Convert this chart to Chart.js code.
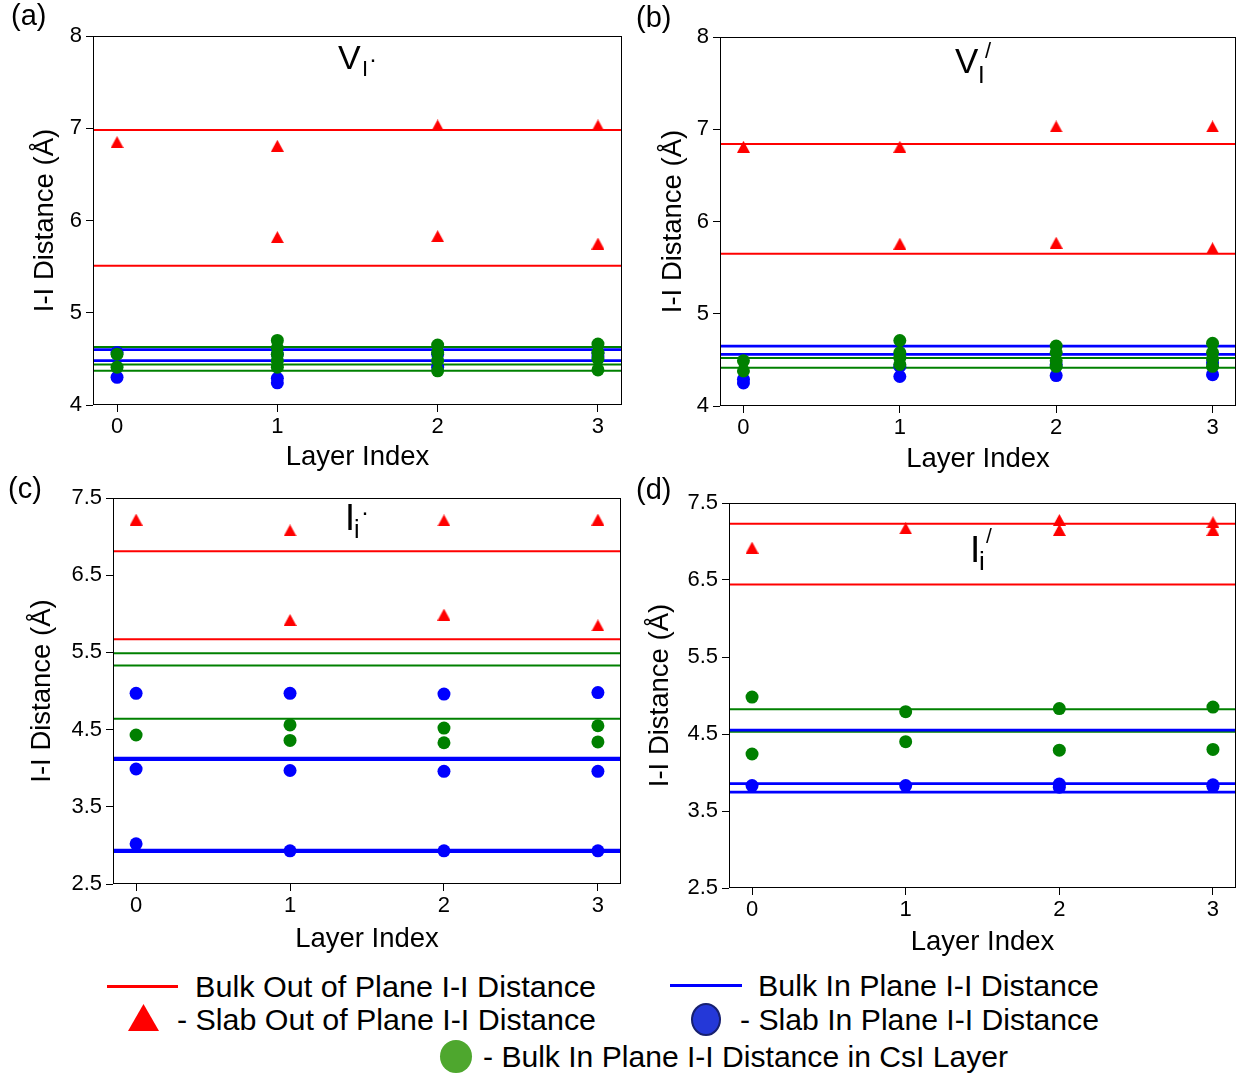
<!DOCTYPE html>
<html><head><meta charset="utf-8">
<script src="https://cdn.jsdelivr.net/npm/chart.js@4.4.0/dist/chart.umd.min.js"></script>
<style>
body{margin:0;background:#fff;width:1244px;height:1076px;position:relative;overflow:hidden;font-family:"Liberation Sans",Arial,sans-serif;}
canvas.pc{position:absolute;}
.t{position:absolute;line-height:1;white-space:nowrap;color:#000;font-family:"Liberation Sans",Arial,sans-serif;}
.lg{position:absolute;line-height:1;white-space:nowrap;color:#000;font-family:"Liberation Sans Narrow","Liberation Sans",Arial,sans-serif;font-size:30px;transform-origin:left center;}
</style></head><body>
<canvas id="ca" class="pc"></canvas>
<canvas id="cb" class="pc"></canvas>
<canvas id="cc" class="pc"></canvas>
<canvas id="cd" class="pc"></canvas>
<div id="overlay"></div>
<script>
// ---------------- DATA ----------------
const LAYER_TICKS = [0, 1, 2, 3];
const X_MIN = -0.15, X_MAX = 3.15;
const Y_TICKS_AB = [4, 5, 6, 7, 8];
const Y_TICKS_CD = [2.5, 3.5, 4.5, 5.5, 6.5, 7.5];

// Panel (a)  V_I·
const aOutLayer = [0, 1, 2, 3, 1, 2, 3];
const aOutVal   = [6.85, 6.81, 7.03, 7.03, 5.82, 5.83, 5.75];
const aInLayer  = [0, 0, 1, 1, 1, 2, 2, 3, 3];
const aInVal    = [4.57, 4.30, 4.55, 4.29, 4.24, 4.55, 4.41, 4.56, 4.52];
const aCsILayer = [0, 0, 1, 1, 1, 1, 1, 2, 2, 2, 2, 3, 3, 3, 3];
const aCsIVal   = [4.55, 4.41, 4.70, 4.62, 4.55, 4.48, 4.41, 4.65, 4.57, 4.48, 4.37, 4.66, 4.57, 4.50, 4.38];
const aBulkOut  = [6.98, 5.51];
const aBulkIn   = [4.60, 4.48];
const aBulkCsI  = [4.63, 4.44, 4.37];

// Panel (b)  V_I/
const bOutLayer = [0, 1, 2, 3, 1, 2, 3];
const bOutVal   = [6.81, 6.81, 7.03, 7.03, 5.76, 5.77, 5.71];
const bInLayer  = [0, 0, 1, 1, 2, 2, 3, 3];
const bInVal    = [4.29, 4.25, 4.32, 4.43, 4.33, 4.45, 4.34, 4.47];
const bCsILayer = [0, 0, 1, 1, 1, 1, 2, 2, 2, 2, 3, 3, 3, 3];
const bCsIVal   = [4.49, 4.38, 4.71, 4.58, 4.52, 4.45, 4.65, 4.58, 4.49, 4.43, 4.68, 4.58, 4.51, 4.43];
const bBulkOut  = [6.84, 5.65];
const bBulkIn   = [4.65, 4.56];
const bBulkCsI  = [4.52, 4.415];

// Panel (c)  I_i·
const cOutLayer = [0, 1, 2, 3, 1, 2, 3];
const cOutVal   = [7.22, 7.08, 7.21, 7.22, 5.92, 5.99, 5.85];
const cInLayer  = [0, 0, 0, 1, 1, 1, 2, 2, 2, 3, 3, 3];
const cInVal    = [4.97, 3.99, 3.02, 4.97, 3.97, 2.93, 4.96, 3.96, 2.93, 4.98, 3.96, 2.93];
const cCsILayer = [0, 1, 1, 2, 2, 3, 3];
const cCsIVal   = [4.43, 4.56, 4.36, 4.52, 4.33, 4.55, 4.34];
const cBulkOut  = [6.81, 5.67];
const cBulkIn   = [4.13, 4.11, 2.94, 2.92];
const cBulkCsI  = [5.49, 5.33, 4.64];

// Panel (d)  I_i/
const dOutLayer = [0, 1, 2, 2, 3, 3];
const dOutVal   = [6.92, 7.17, 7.28, 7.15, 7.25, 7.15];
const dInLayer  = [0, 1, 2, 2, 3, 3];
const dInVal    = [3.83, 3.83, 3.85, 3.81, 3.84, 3.82];
const dCsILayer = [0, 0, 1, 1, 2, 2, 3, 3];
const dCsIVal   = [4.98, 4.24, 4.79, 4.40, 4.83, 4.29, 4.85, 4.30];
const dBulkOut  = [7.23, 6.44];
const dBulkIn   = [4.55, 3.855, 3.745];
const dBulkCsI  = [4.82, 4.53];

const Y_TITLE = 'I-I Distance (Å)';
const X_TITLE = 'Layer Index';

// ---------------- STYLE / LAYOUT ----------------
const RED = '#ff0000', BLUE = '#0000ff', GREEN = '#008000';
const FONT = 'Liberation Sans';

function triImg(w, h, color) {
  const c = document.createElement('canvas');
  c.width = w; c.height = h;
  const x = c.getContext('2d');
  x.fillStyle = color;
  x.beginPath(); x.moveTo(w / 2, 0); x.lineTo(w, h); x.lineTo(0, h); x.closePath(); x.fill();
  return c;
}
const TRI = triImg(13, 12, RED);

const framePlugin = {
  id: 'frame',
  afterDraw(chart) {
    const {ctx, chartArea: a} = chart;
    ctx.save();
    ctx.strokeStyle = '#000'; ctx.lineWidth = 1;
    ctx.strokeRect(Math.round(a.left) + 0.5, Math.round(a.top) + 0.5,
                   Math.round(a.right - a.left) - 1, Math.round(a.bottom - a.top) - 1);
    ctx.restore();
  }
};

function pts(layers, vals) { return layers.map((l, i) => ({x: l, y: vals[i]})); }
function hline(v) { return [{x: X_MIN, y: v}, {x: X_MAX, y: v}]; }

function makePanel(id, g, d) {
  const cv = document.getElementById(id);
  cv.width = g.cw; cv.height = g.ch;
  cv.style.left = g.cx + 'px'; cv.style.top = g.cy + 'px';
  const ds = [];
  d.bulkOut.forEach(v => ds.push({type: 'line', data: hline(v), borderColor: RED, borderWidth: 2, pointRadius: 0, order: 10}));
  d.bulkCsI.forEach(v => ds.push({type: 'line', data: hline(v), borderColor: GREEN, borderWidth: 2, pointRadius: 0, order: 11}));
  d.bulkIn.forEach(v => ds.push({type: 'line', data: hline(v), borderColor: BLUE, borderWidth: 2.8, pointRadius: 0, order: 10}));
  ds.push({type: 'scatter', data: pts(d.inL, d.inV), backgroundColor: BLUE, borderWidth: 0, pointRadius: 6.5, order: 3});
  ds.push({type: 'scatter', data: pts(d.csiL, d.csiV), backgroundColor: GREEN, borderWidth: 0, pointRadius: 6.5, order: 2});
  ds.push({type: 'scatter', data: pts(d.outL, d.outV), pointStyle: TRI, pointRadius: 7, order: 1});
  const tickFont = {family: FONT, size: 22};
  const titleFont = {family: FONT, size: 27.5};
  new Chart(cv, {
    type: 'scatter',
    data: {datasets: ds},
    options: {
      responsive: false, animation: false, devicePixelRatio: 1,
      layout: {padding: {top: g.padT, right: g.padR, left: 0, bottom: 0}},
      plugins: {legend: {display: false}, tooltip: {enabled: false}},
      scales: {
        x: {
          type: 'linear', min: X_MIN, max: X_MAX,
          afterBuildTicks: s => { s.ticks = LAYER_TICKS.map(v => ({value: v})); },
          afterFit: s => { s.height = g.xh; },
          ticks: {font: tickFont, color: '#000', padding: 2, maxRotation: 0, callback: v => String(v)},
          grid: {display: true, drawOnChartArea: false, drawTicks: true, tickLength: 7, color: '#000'},
          border: {display: false},
          title: {display: true, text: X_TITLE, font: titleFont, color: '#000', padding: {top: 0, bottom: g.xtp}}
        },
        y: {
          type: 'linear', min: g.ymin, max: g.ymax,
          afterBuildTicks: s => { s.ticks = g.yt.map(v => ({value: v})); },
          afterFit: s => { s.width = g.yw; },
          ticks: {font: tickFont, color: '#000', padding: 4, callback: v => g.dec ? v.toFixed(1) : String(v)},
          grid: {display: true, drawOnChartArea: false, drawTicks: true, tickLength: 7, color: '#000'},
          border: {display: false},
          title: {display: true, text: Y_TITLE, font: titleFont, color: '#000', padding: {top: g.ytp, bottom: 0}}
        }
      }
    },
    plugins: [framePlugin]
  });
}

makePanel('ca', {cx: 0, cy: 0, cw: 630, ch: 475, yw: 93, padR: 7, padT: 36, xh: 70, ytp: 28.5, xtp: 1.5, ymin: 4, ymax: 8, yt: Y_TICKS_AB, dec: false},
  {outL: aOutLayer, outV: aOutVal, inL: aInLayer, inV: aInVal, csiL: aCsILayer, csiV: aCsIVal, bulkOut: aBulkOut, bulkIn: aBulkIn, bulkCsI: aBulkCsI});
makePanel('cb', {cx: 630, cy: 0, cw: 614, ch: 477, yw: 90, padR: 4, padT: 37, xh: 71, ytp: 26.5, xtp: 1.5, ymin: 4, ymax: 8, yt: Y_TICKS_AB, dec: false},
  {outL: bOutLayer, outV: bOutVal, inL: bInLayer, inV: bInVal, csiL: bCsILayer, csiV: bCsIVal, bulkOut: bBulkOut, bulkIn: bBulkIn, bulkCsI: bBulkCsI});
makePanel('cc', {cx: 0, cy: 480, cw: 630, ch: 480, yw: 113, padR: 9, padT: 18, xh: 76, ytp: 25.5, xtp: 4.5, ymin: 2.5, ymax: 7.5, yt: Y_TICKS_CD, dec: true},
  {outL: cOutLayer, outV: cOutVal, inL: cInLayer, inV: cInVal, csiL: cCsILayer, csiV: cCsIVal, bulkOut: cBulkOut, bulkIn: cBulkIn, bulkCsI: cBulkCsI});
makePanel('cd', {cx: 630, cy: 480, cw: 614, ch: 480, yw: 99, padR: 8, padT: 23, xh: 72, ytp: 13.5, xtp: 1.5, ymin: 2.5, ymax: 7.5, yt: Y_TICKS_CD, dec: true},
  {outL: dOutLayer, outV: dOutVal, inL: dInLayer, inV: dInVal, csiL: dCsILayer, csiV: dCsIVal, bulkOut: dBulkOut, bulkIn: dBulkIn, bulkCsI: dBulkCsI});

// ---------------- TEXT OVERLAYS ----------------
const ov = document.getElementById('overlay');
function txt(s, left, baseline, size, cls) {
  const e = document.createElement('div');
  e.className = cls || 't';
  e.textContent = s;
  e.style.left = left + 'px';
  e.style.top = (baseline - 0.8465 * size) + 'px';
  e.style.fontSize = size + 'px';
  ov.appendChild(e);
  return e;
}
// panel labels
txt('(a)', 11, 26, 29);
txt('(b)', 636, 28, 29);
txt('(c)', 8, 499, 29);
txt('(d)', 636, 500, 29);
// panel titles (main letter, subscript, superscript)
txt('V', 338, 69, 34); txt('I', 362, 77, 22); txt('·', 369, 67, 24);
txt('V', 955, 73, 35); txt('I', 978, 83, 24); txt('/', 985, 59, 22);
txt('I', 345, 530, 36); txt('i', 354, 538, 25); txt('·', 361, 520, 24);
txt('I', 970, 562, 37); txt('i', 979, 570, 26); txt('/', 986, 543, 21);

// legend
function box(left, top, w, h, css) {
  const e = document.createElement('div');
  e.style.cssText = `position:absolute;left:${left}px;top:${top}px;width:${w}px;height:${h}px;${css}`;
  ov.appendChild(e);
}
box(107, 984.5, 71, 3, 'background:#ff0000;');
box(670, 983.5, 72, 3, 'background:#0000ff;');
ov.insertAdjacentHTML('beforeend',
  '<svg style="position:absolute;left:128px;top:1004px" width="31" height="27"><polygon points="15.5,0 31,27 0,27" fill="#ff0000"/></svg>');
box(691, 1003, 30, 33, 'box-sizing:border-box;border-radius:50%;background:#2438d8;border:2px solid #172070;');
box(440, 1040, 32, 33, 'border-radius:50%;background:#4ea72e;');
const legendItems = [
  ['Bulk Out of Plane I-I Distance', 195, 997, 401],
  ['Bulk In Plane I-I Distance', 758, 996, 341],
  ['- Slab Out of Plane I-I Distance', 177, 1030, 419],
  ['- Slab In Plane I-I Distance', 740, 1030, 359],
  ['- Bulk In Plane I-I Distance in CsI Layer', 483, 1067, 525]
];
legendItems.forEach(([s, l, b, w]) => {
  const e = txt(s, l, b, 30, 'lg');
  const nw = e.getBoundingClientRect().width;
  e.style.transform = `scaleX(${w / nw})`;
});
</script>
</body></html>
